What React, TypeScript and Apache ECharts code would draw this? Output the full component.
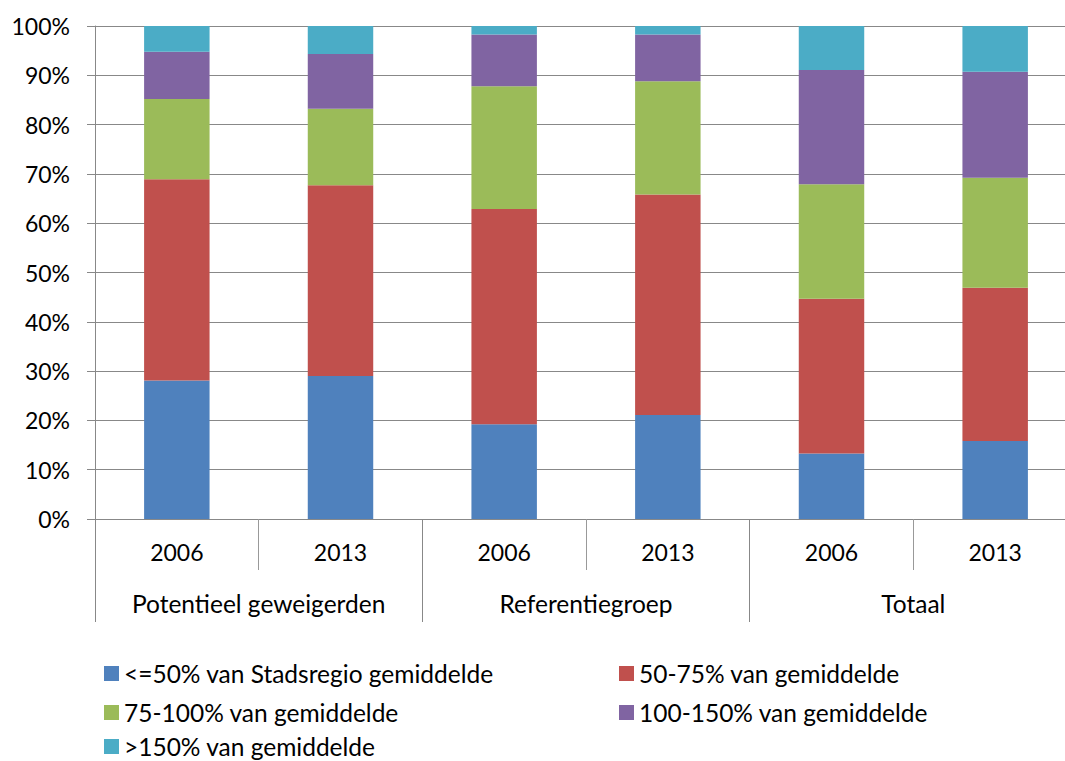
import React, { useEffect, useRef } from "react";
import * as echarts from "echarts";

const years = ["2006", "2013", "2006", "2013", "2006", "2013"];
const groups = ["Potentieel geweigerden", "Referentiegroep", "Totaal"];
const yTicks = [0, 10, 20, 30, 40, 50, 60, 70, 80, 90, 100];

const seriesNames = [
  "<=50% van Stadsregio gemiddelde",
  "50-75% van gemiddelde",
  "75-100% van gemiddelde",
  "100-150% van gemiddelde",
  ">150% van gemiddelde",
];
const colors = ["#4F81BD", "#C0504D", "#9BBB59", "#8064A2", "#4BACC6"];

const lowest = [28.1, 29.0, 19.2, 21.1, 13.3, 15.8];
const low = [40.8, 38.7, 43.7, 44.7, 31.4, 31.1];
const mid = [16.3, 15.5, 24.9, 23.0, 23.2, 22.3];
const high = [9.6, 11.1, 10.5, 9.5, 23.2, 21.5];
const highest = [5.2, 5.7, 1.7, 1.7, 8.9, 9.3];

const values = [lowest, low, mid, high, highest];

const FONT = "Lato";

// legend cell placement (left, top) for each series
const legendPos = [
  [104, 661],
  [619, 661],
  [104, 700],
  [619, 700],
  [104, 734],
];

export default function App() {
  const ref = useRef<HTMLDivElement>(null);
  useEffect(() => {
    if (!ref.current) return;
    const chart = echarts.init(ref.current, undefined, { renderer: "svg" });
    const axisColor = "#888888";
    chart.setOption({
      animation: false,
      backgroundColor: "#ffffff",
      textStyle: { fontFamily: FONT, color: "#000" },
      grid: {
        left: 95,
        top: 26,
        right: -12,
        bottom: 242,
        containLabel: false,
        outerBoundsMode: "none",
      },
      legend: seriesNames.map((name, i) => ({
        data: [name],
        orient: "horizontal",
        left: legendPos[i][0],
        top: legendPos[i][1],
        padding: 0,
        itemWidth: 15,
        itemHeight: 15,
        icon: "rect",
        textStyle: { fontFamily: FONT, fontSize: 24.5, lineHeight: 24, color: "#000" },
      })),
      xAxis: [
        {
          type: "category",
          data: years,
          axisLine: { show: true, lineStyle: { color: axisColor, width: 1 } },
          axisTick: { show: true, interval: 0, length: 51, lineStyle: { color: "#999" } },
          axisLabel: {
            interval: 0,
            margin: 21.5,
            fontFamily: FONT,
            fontSize: 23,
            lineHeight: 23,
            color: "#000",
          },
        },
        {
          type: "category",
          data: groups,
          position: "bottom",
          axisLine: { show: false },
          axisTick: { show: true, interval: 0, length: 103, lineStyle: { color: axisColor } },
          axisLabel: {
            interval: 0,
            margin: 72,
            fontFamily: FONT,
            fontSize: 24.5,
            lineHeight: 24.5,
            color: "#000",
          },
        },
      ],
      yAxis: {
        type: "value",
        min: yTicks[0],
        max: yTicks[yTicks.length - 1],
        interval: 10,
        axisLine: { show: true, lineStyle: { color: axisColor } },
        axisTick: { show: true, length: 8, lineStyle: { color: axisColor } },
        splitLine: { show: true, lineStyle: { color: axisColor, width: 1 } },
        axisLabel: {
          formatter: "{value}%",
          margin: 25,
          fontFamily: FONT,
          fontSize: 23,
          color: "#000",
        },
      },
      series: values.map((v, i) => ({
        name: seriesNames[i],
        type: "bar",
        stack: "total",
        xAxisIndex: 0,
        barWidth: "40%",
        data: v,
        itemStyle: { color: colors[i] },
      })),
    });
    return () => chart.dispose();
  }, []);
  return (
    <div
      ref={ref}
      style={{ position: "absolute", left: 0, top: 0, width: 1065, height: 761 }}
    />
  );
}
